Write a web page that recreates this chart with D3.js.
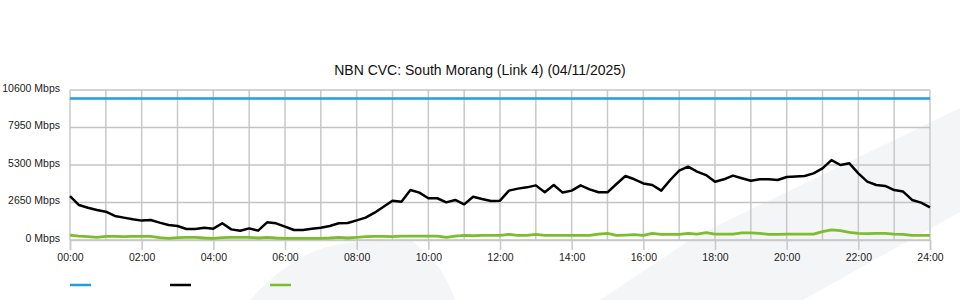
<!DOCTYPE html>
<html><head><meta charset="utf-8">
<script src="https://cdn.jsdelivr.net/npm/d3@7/dist/d3.min.js"></script>
<style>
html,body{margin:0;padding:0;background:#fff;}
svg{display:block;font-family:"Liberation Sans",Arial,sans-serif;}
</style></head>
<body>
<svg id="chart" width="960" height="300"></svg>
<script>
const title = "NBN CVC: South Morang (Link 4) (04/11/2025)";
const hours = [0,0.25,0.5,0.75,1,1.25,1.5,1.75,2,2.25,2.5,2.75,3,3.25,3.5,3.75,4,4.25,4.5,4.75,5,5.25,5.5,5.75,6,6.25,6.5,6.75,7,7.25,7.5,7.75,8,8.25,8.5,8.75,9,9.25,9.5,9.75,10,10.25,10.5,10.75,11,11.25,11.5,11.75,12,12.25,12.5,12.75,13,13.25,13.5,13.75,14,14.25,14.5,14.75,15,15.25,15.5,15.75,16,16.25,16.5,16.75,17,17.25,17.5,17.75,18,18.25,18.5,18.75,19,19.25,19.5,19.75,20,20.25,20.5,20.75,21,21.25,21.5,21.75,22,22.25,22.5,22.75,23,23.25,23.5,23.75,24];
const capacity = [10000,10000];
const capacityHours = [0,24];
const download = [3100,2470,2280,2120,2000,1700,1580,1460,1370,1410,1225,1060,990,780,780,870,800,1180,750,650,820,660,1250,1180,940,710,710,800,870,990,1180,1200,1390,1580,1930,2350,2780,2710,3530,3350,2950,2950,2660,2830,2520,3060,2900,2760,2780,3490,3630,3720,3860,3370,3890,3350,3490,3860,3580,3370,3370,3960,4520,4290,4000,3890,3490,4240,4900,5180,4830,4590,4120,4290,4550,4360,4190,4290,4290,4240,4450,4480,4520,4710,5060,5650,5300,5420,4710,4120,3890,3820,3530,3420,2830,2640,2310];
const upload = [350,280,240,190,260,260,240,260,260,260,165,120,165,190,190,140,120,165,190,190,190,140,190,140,120,120,120,120,120,140,190,140,190,240,260,260,240,280,280,280,280,280,190,280,330,300,330,330,330,400,330,330,400,330,330,330,330,330,330,420,470,330,350,380,330,470,400,400,400,470,420,520,420,420,420,500,500,470,400,400,420,420,420,420,590,710,660,540,470,450,470,470,420,400,330,330,330];
const yTicks = [0,2650,5300,7950,10600];
const xTicks = [0,2,4,6,8,10,12,14,16,18,20,22,24];
const gridHours = d3.range(0,25);
const seriesColors = ["#1e9fdf","#000000","#7dbd2c"];

const svg = d3.select("#chart");
const x = d3.scaleLinear().domain([0,24]).range([70,930]);
const y = d3.scaleLinear().domain([0,10600]).range([240,90]);

// watermark shapes
svg.append("path").attr("fill","#f4f5f7")
  .attr("d","M250,300 C285,262 315,244 360,242 L412,241 C430,255 445,270 455,300 Z");
svg.append("path").attr("fill","#f4f5f7")
  .attr("d","M600,300 L696,236 L960,108 L960,212 L910,240 L803,300 Z");

svg.append("text").attr("x",480).attr("y",75).attr("text-anchor","middle")
  .attr("font-size",14).attr("fill","#111").text(title);

// grid
svg.append("g").selectAll("line").data(gridHours).join("line")
  .attr("x1",d=>x(d)).attr("x2",d=>x(d)).attr("y1",y(10600)).attr("y2",y(0))
  .attr("stroke","#c8c8c8").attr("stroke-width",1.5);
svg.append("g").selectAll("line").data(yTicks).join("line")
  .attr("x1",x(0)).attr("x2",x(24)).attr("y1",d=>y(d)).attr("y2",d=>y(d))
  .attr("stroke","#c4c4c4").attr("stroke-width",1.5);

// y labels
svg.append("g").selectAll("text").data(yTicks).join("text")
  .attr("x",60).attr("y",d=>y(d)-2).attr("dy","0.35em").attr("text-anchor","end")
  .attr("font-size",10.5).attr("fill","#222").text(d=>d+" Mbps");

// x axis
const xAxis = d3.axisBottom(x).tickValues(xTicks).tickSize(10).tickPadding(4)
  .tickFormat(d=>String(d).padStart(2,"0")+":00");
const gx = svg.append("g").attr("transform","translate(0,240)").call(xAxis);
gx.select(".domain").attr("stroke","#c8c8c8").attr("stroke-width",1.5);
gx.selectAll(".tick line").attr("stroke","#c8c8c8").attr("stroke-width",1.5);
gx.selectAll(".tick text").attr("font-size",10.5).attr("fill","#222")
  .attr("font-family","Liberation Sans, Arial, sans-serif");

// lines
const line = d3.line().x(d=>x(d[0])).y(d=>y(d[1]));
svg.append("path").datum(capacityHours.map((h,i)=>[h,capacity[i]]))
  .attr("d",line).attr("fill","none").attr("stroke",seriesColors[0]).attr("stroke-width",2.5);
svg.append("path").datum(hours.map((h,i)=>[h,upload[i]]))
  .attr("d",line).attr("fill","none").attr("stroke",seriesColors[2]).attr("stroke-width",2.8)
  .attr("stroke-linejoin","round");
svg.append("path").datum(hours.map((h,i)=>[h,download[i]]))
  .attr("d",line).attr("fill","none").attr("stroke",seriesColors[1]).attr("stroke-width",2.5)
  .attr("stroke-linejoin","round");

// legend swatches
svg.append("g").selectAll("line").data(seriesColors).join("line")
  .attr("x1",(d,i)=>70+i*100).attr("x2",(d,i)=>91+i*100).attr("y1",285).attr("y2",285)
  .attr("stroke",d=>d).attr("stroke-width",2.5);
</script>
</body></html>
